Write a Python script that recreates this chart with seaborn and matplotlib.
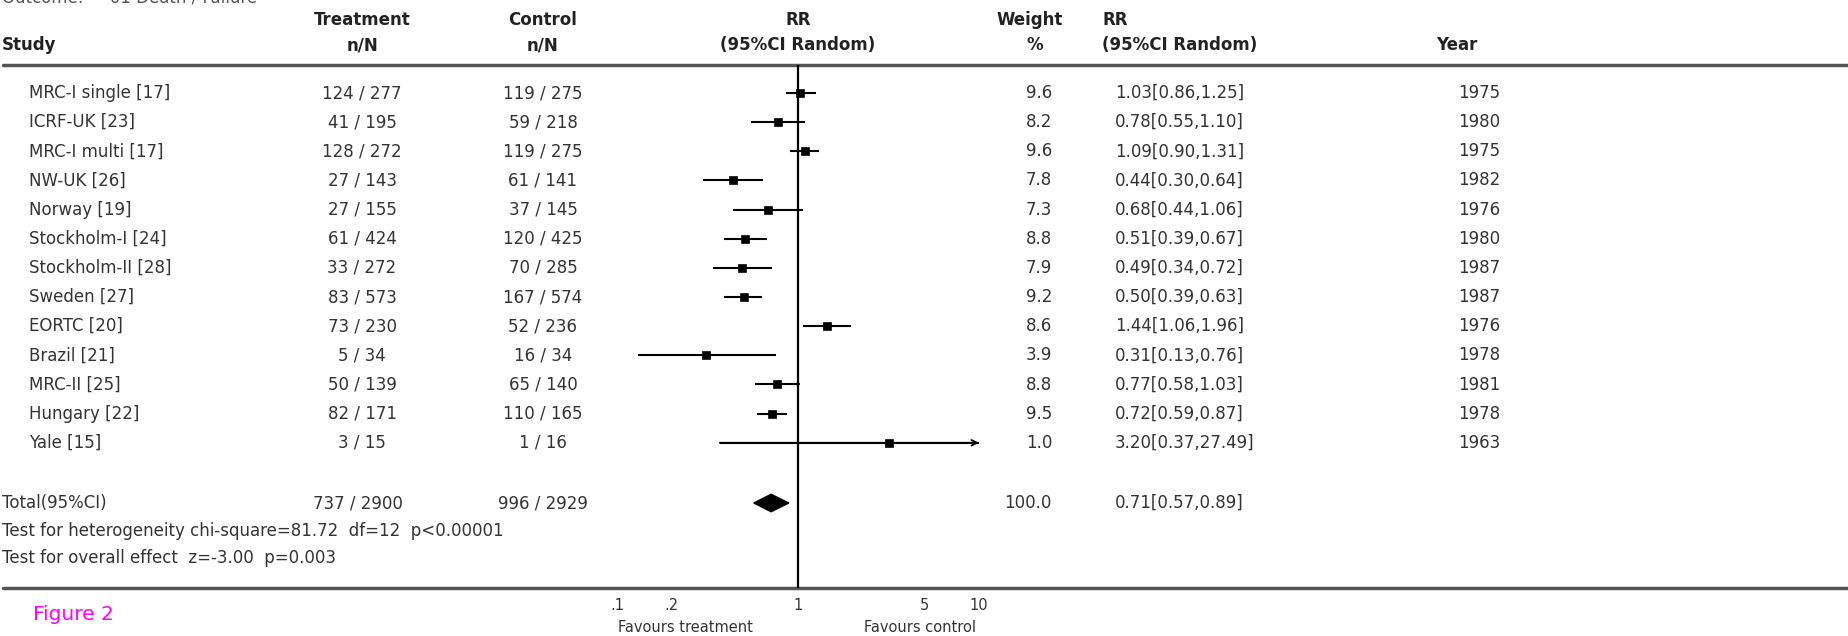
import pandas as pd
import matplotlib
matplotlib.use("Agg")
import matplotlib.pyplot as plt
import seaborn as sns

# study-level data
studies = ["MRC-I single [17]", "ICRF-UK [23]", "MRC-I multi [17]", "NW-UK [26]",
           "Norway [19]", "Stockholm-I [24]", "Stockholm-II [28]", "Sweden [27]",
           "EORTC [20]", "Brazil [21]", "MRC-II [25]", "Hungary [22]", "Yale [15]"]
treat_n = [124, 41, 128, 27, 27, 61, 33, 83, 73, 5, 50, 82, 3]
treat_N = [277, 195, 272, 143, 155, 424, 272, 573, 230, 34, 139, 171, 15]
ctrl_n = [119, 59, 119, 61, 37, 120, 70, 167, 52, 16, 65, 110, 1]
ctrl_N = [275, 218, 275, 141, 145, 425, 285, 574, 236, 34, 140, 165, 16]
weights = [9.6, 8.2, 9.6, 7.8, 7.3, 8.8, 7.9, 9.2, 8.6, 3.9, 8.8, 9.5, 1.0]
rr = [1.03, 0.78, 1.09, 0.44, 0.68, 0.51, 0.49, 0.50, 1.44, 0.31, 0.77, 0.72, 3.20]
rr_lo = [0.86, 0.55, 0.90, 0.30, 0.44, 0.39, 0.34, 0.39, 1.06, 0.13, 0.58, 0.59, 0.37]
rr_hi = [1.25, 1.10, 1.31, 0.64, 1.06, 0.67, 0.72, 0.63, 1.96, 0.76, 1.03, 0.87, 27.49]
years = [1975, 1980, 1975, 1982, 1976, 1980, 1987, 1987, 1976, 1978, 1981, 1978, 1963]

# pooled result
total_treat = (737, 2900)
total_ctrl = (996, 2929)
total_weight = 100.0
total_rr, total_lo, total_hi = 0.71, 0.57, 0.89
het_text = "Test for heterogeneity chi-square=81.72  df=12  p<0.00001"
overall_text = "Test for overall effect  z=-3.00  p=0.003"

tick_vals = [0.1, 0.2, 1, 5, 10]
tick_labels = [".1", ".2", "1", "5", "10"]

df = pd.DataFrame({"study": studies, "rr": rr, "lo": rr_lo, "hi": rr_hi,
                   "row": range(len(studies))})

W, H = 1849, 636
sns.set_style("white")
plt.rcParams["font.family"] = ["DejaVu Sans"]
fs = 12
txt = "#333333"

fig = plt.figure(figsize=(W / 100, H / 100), dpi=100)

# background axes in pixel units for the table text
bg = fig.add_axes([0, 0, 1, 1])
bg.set_xlim(0, W)
bg.set_ylim(H, 0)
bg.axis("off")

row0, step = 93, 29.15
def row_y(i):
    return row0 + step * i

# outcome line, cropped at the top edge as in the source image
bg.text(2, -3, "Outcome:     01 Death / Failure", fontsize=fs, color="#555555",
        va="center", ha="left")

# headers
hdr = dict(fontsize=fs, fontweight="bold", color="#222222", va="center")
bg.text(2, 45, "Study", ha="left", **hdr)
bg.text(362, 20, "Treatment", ha="center", **hdr)
bg.text(362, 45, "n/N", ha="center", **hdr)
bg.text(543, 20, "Control", ha="center", **hdr)
bg.text(543, 45, "n/N", ha="center", **hdr)
bg.text(798, 20, "RR", ha="center", **hdr)
bg.text(798, 45, "(95%CI Random)", ha="center", **hdr)
bg.text(1030, 20, "Weight", ha="center", **hdr)
bg.text(1035, 45, "%", ha="center", **hdr)
bg.text(1102, 20, "RR", ha="left", **hdr)
bg.text(1102, 45, "(95%CI Random)", ha="left", **hdr)
bg.text(1457, 45, "Year", ha="center", **hdr)

# rules
bg.plot([3, W], [65, 65], color="#555555", lw=2.5)
bg.plot([3, W], [588, 588], color="#555555", lw=2.5)

body = dict(fontsize=fs, color=txt, va="center")
for i, s in enumerate(studies):
    y = row_y(i)
    bg.text(29, y, s, ha="left", **body)
    bg.text(362, y, f"{treat_n[i]} / {treat_N[i]}", ha="center", **body)
    bg.text(543, y, f"{ctrl_n[i]} / {ctrl_N[i]}", ha="center", **body)
    bg.text(1052, y, f"{weights[i]:.1f}", ha="right", **body)
    bg.text(1115, y, f"{rr[i]:.2f}[{rr_lo[i]:.2f},{rr_hi[i]:.2f}]", ha="left", **body)
    bg.text(1500, y, str(years[i]), ha="right", **body)

ty = 503
bg.text(2, ty, "Total(95%CI)", ha="left", **body)
bg.text(358, ty, f"{total_treat[0]} / {total_treat[1]}", ha="center", **body)
bg.text(543, ty, f"{total_ctrl[0]} / {total_ctrl[1]}", ha="center", **body)
bg.text(1052, ty, f"{total_weight:.1f}", ha="right", **body)
bg.text(1115, ty, f"{total_rr:.2f}[{total_lo:.2f},{total_hi:.2f}]", ha="left", **body)
bg.text(2, 531, het_text, ha="left", **body)
bg.text(2, 558, overall_text, ha="left", **body)

bg.text(685, 628, "Favours treatment", ha="center", va="center", fontsize=10.5, color=txt)
bg.text(920, 628, "Favours control", ha="center", va="center", fontsize=10.5, color=txt)
bg.text(33, 614, "Figure 2", ha="left", va="center", fontsize=14.5, color="#ff00ff")

# forest axes: log scale, 1 at x=798, 181 px per decade
x0, x1 = 617, 979
y_top, y_bot = 65, 588
ax = fig.add_axes([x0 / W, (H - y_bot) / H, (x1 - x0) / W, (y_bot - y_top) / H])
ax.set_facecolor("none")
ax.set_xscale("log")
ax.set_xlim(0.1, 10)
ax.set_ylim((y_bot - row0) / step, (y_top - row0) / step)
for sp in ax.spines.values():
    sp.set_visible(False)
ax.set_yticks([])
ax.set_xticks(tick_vals)
ax.set_xticklabels(tick_labels)
ax.minorticks_off()
ax.tick_params(axis="x", direction="out", length=5, width=1, pad=2,
               labelsize=10.5, labelcolor=txt)

ax.axvline(1, color="black", lw=1.6)

xmax = ax.get_xlim()[1]
clipped = df["hi"] > xmax
ax.hlines(df["row"], df["lo"], df["hi"].clip(upper=xmax), color="black", lw=1.5)
for _, r in df[clipped].iterrows():
    ax.annotate("", xy=(xmax, r["row"]), xytext=(r["lo"], r["row"]),
                arrowprops=dict(arrowstyle="->", lw=1.3, color="black",
                                shrinkA=0, shrinkB=0))
sns.scatterplot(data=df, x="rr", y="row", marker="s", s=34, color="black",
                edgecolor="black", ax=ax, legend=False, zorder=3)

# pooled diamond
t_row = (ty - row0) / step
ax.fill([total_lo, total_rr, total_hi, total_rr],
        [t_row, t_row - 0.3, t_row, t_row + 0.3], color="black", zorder=3)
ax.set_xlabel("")
ax.set_ylabel("")

fig.savefig("out.png", dpi=100)
